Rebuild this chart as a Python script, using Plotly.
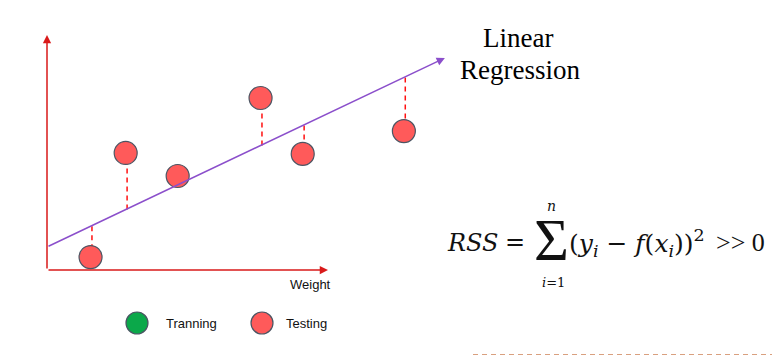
import plotly.graph_objects as go

# ---- data (weight units, response units) ----
test_weight = [1.55, 2.8, 4.65, 7.6, 9.1, 12.7]
test_value = [0.55, 4.98, 4.0, 7.32, 4.94, 5.91]
reg_intercept = 0.98
reg_slope = 0.568
reg_x_end = 14.16
axis_max = 10
legend_labels = ["Tranning", "Testing"]
legend_colors = ["#0BA84A", "#FF5A5A"]

W, H = 772, 356
# pixel scale of one unit
XU, YU = 28.1, 23.5
X0, Y0 = 47, 270
xr = [-X0 / XU, (W - X0) / XU]
yr = [-(H - Y0) / YU, Y0 / YU]

def px(xp):
    return (xp - X0) / XU

def py(yp):
    return (Y0 - yp) / YU

fig = go.Figure()

# residual dashed lines
dx, dy = [], []
for x, y in zip(test_weight, test_value):
    dx += [x + 0.05, x + 0.05, None]
    dy += [reg_intercept + reg_slope * x, y, None]
fig.add_trace(go.Scatter(x=dx, y=dy, mode="lines",
                         line=dict(color="#FF1010", width=1.5, dash="5px,4px"),
                         hoverinfo="skip", showlegend=False))

# testing points
fig.add_trace(go.Scatter(x=test_weight, y=test_value, mode="markers",
                         marker=dict(size=23, color=legend_colors[1],
                                     line=dict(color="#4B5563", width=1.2)),
                         showlegend=False))

# legend markers
leg_x = [px(137), px(262)]
leg_y = [py(323), py(323)]
fig.add_trace(go.Scatter(x=leg_x, y=leg_y, mode="markers",
                         marker=dict(size=22, color=legend_colors,
                                     line=dict(color="#4B5563", width=1.2)),
                         showlegend=False, hoverinfo="skip"))

anns = []
# axes arrows
anns.append(dict(x=0, y=axis_max, ax=0, ay=0, xref="x", yref="y", axref="x", ayref="y",
                 showarrow=True, arrowhead=2, arrowsize=1.1, arrowwidth=1.5,
                 arrowcolor="#D91A1A", text=""))
anns.append(dict(x=axis_max, y=0, ax=0, ay=0, xref="x", yref="y", axref="x", ayref="y",
                 showarrow=True, arrowhead=2, arrowsize=1.1, arrowwidth=1.5,
                 arrowcolor="#D91A1A", text=""))
# regression line with arrow
anns.append(dict(x=reg_x_end, y=reg_intercept + reg_slope * reg_x_end,
                 ax=0, ay=reg_intercept, xref="x", yref="y", axref="x", ayref="y",
                 showarrow=True, arrowhead=2, arrowsize=1.1, arrowwidth=1.5,
                 arrowcolor="#8B4FCB", text=""))

def label(xp, yp, text, family, size, xanchor="center", color="#111"):
    anns.append(dict(x=xp / W, y=1 - yp / H, xref="paper", yref="paper",
                     xanchor=xanchor, yanchor="middle", text=text, showarrow=False,
                     font=dict(family=family, size=size, color=color)))

sans = "Liberation Sans Narrow, Arial Narrow, Liberation Sans, Arial"
label(310, 284, "Weight", sans, 13)
label(164, 323, legend_labels[0], sans, 13, xanchor="left")
label(284, 323, legend_labels[1], sans, 13, xanchor="left")

serif = "Liberation Serif, Times New Roman, serif"
label(518, 38, "Linear", serif, 27, color="#000")
label(520, 70, "Regression", serif, 27, color="#000")

# RSS formula
mserif = "DejaVu Serif, serif"
label(445, 243, "<i>RSS</i>", mserif, 24, xanchor="left")
label(515, 242, "=", mserif, 24)
label(551, 240, "Σ", serif, 60)
label(551, 206, "<i>n</i>", mserif, 14)
label(553, 282, "<i>i</i>=1", mserif, 13)
label(567, 243, "(<i>y</i><sub><i>i</i></sub> − <i>f</i>(<i>x</i><sub><i>i</i></sub>))<sup>2</sup>",
      mserif, 25, xanchor="left")
label(714, 243, ">> 0", serif, 26, xanchor="left")

shapes = [dict(type="line", xref="paper", yref="paper",
               x0=473 / W, x1=1, y0=1 - 354.5 / H, y1=1 - 354.5 / H,
               line=dict(color="#D9A07F", width=1, dash="5px,4px"))]

fig.update_layout(
    width=W, height=H, margin=dict(l=0, r=0, t=0, b=0),
    paper_bgcolor="white", plot_bgcolor="white",
    xaxis=dict(range=xr, visible=False, fixedrange=True),
    yaxis=dict(range=yr, visible=False, fixedrange=True),
    annotations=anns, shapes=shapes, showlegend=False,
)

fig.write_html("out.html", config={"displayModeBar": False},
               post_script="document.body.style.margin='0';document.body.style.overflow='hidden';")
